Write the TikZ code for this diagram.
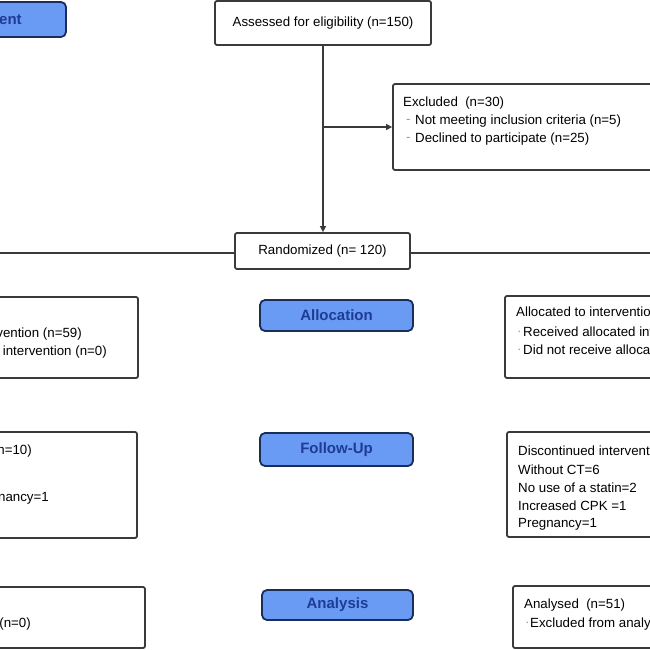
\documentclass[tikz,border=0pt]{standalone}
\usepackage{fontspec}
\setmainfont{Liberation Sans}
\usetikzlibrary{arrows.meta}
\definecolor{bluefill}{HTML}{6A9BF4}
\definecolor{blueline}{HTML}{1B2E5A}
\definecolor{bluetext}{HTML}{1E3C96}
\definecolor{boxline}{HTML}{3A3A3A}
\definecolor{bulletgrey}{HTML}{9A9A9A}
\begin{document}
\begin{tikzpicture}[x=1pt,y=-1pt,
  box/.style={draw=boxline, line width=1.8pt, rounded corners=2pt, fill=white, inner sep=0pt},
  phase/.style={draw=blueline, line width=1.8pt, rounded corners=5pt, fill=bluefill, text=bluetext, inner sep=0pt, font=\bfseries\fontsize{15}{18}\selectfont},
  txt/.style={font=\fontsize{13.3}{16}\selectfont, inner sep=0pt},
  bul/.style={font=\fontsize{13.3}{16}\selectfont, inner sep=0pt, text=bulletgrey},
  conn/.style={draw=boxline, line width=1.5pt},
  arr/.style={conn, -{Triangle[length=6pt,width=6pt]}}]
\useasboundingbox (0,0) rectangle (650,650);
\clip (0,0) rectangle (650,650);

% phase boxes
\node[phase, minimum width=167pt, minimum height=35pt] (enroll) at (-17.5,19.5) {Enrollment};
\node[phase, minimum width=153pt, minimum height=31pt] (alloc) at (336.5,315.5) {Allocation};
\node[phase, minimum width=153pt, minimum height=33pt] (follow) at (336.5,449.5) {Follow-Up};
\node[phase, minimum width=151pt, minimum height=30pt] (analysis) at (337.5,605) {Analysis};

% main boxes
\node[box, minimum width=216pt, minimum height=44pt, txt] (assess) at (323,23) {Assessed for eligibility (n=150)};
\node[box, minimum width=175pt, minimum height=36pt, txt] (rand) at (322.5,251) {Randomized (n= 120)};
\node[box, minimum width=300pt, minimum height=86pt] (excl) at (543,127) {};
\node[txt, anchor=west] (ex1) at (403,103) {Excluded\ \ (n=30)};
\node[bul, anchor=west] (exb2) at (406,121) {-};
\node[txt, anchor=west] (ex2) at (415,121) {Not meeting inclusion criteria (n=5)};
\node[bul, anchor=west] (exb3) at (406,139) {-};
\node[txt, anchor=west] (ex3) at (415,139) {Declined to participate (n=25)};

% allocation
\node[box, minimum width=288pt, minimum height=81pt] (allocL) at (-6,337.5) {};
\node[txt, anchor=east] (aL2) at (82,334) {Received allocated intervention (n=59)};
\node[txt, anchor=east] (aL3) at (107,352) {Did not receive allocated intervention (n=0)};
\node[box, minimum width=295pt, minimum height=82pt] (allocR) at (652.5,337) {};
\node[txt, anchor=west] (aR1) at (516,313) {Allocated to intervention (n=61)};
\node[bul, anchor=west] (aRb2) at (517,333) {·};
\node[txt, anchor=west] (aR2) at (523,333) {Received allocated intervention (n=61)};
\node[bul, anchor=west] (aRb3) at (517,351) {·};
\node[txt, anchor=west] (aR3) at (523,351) {Did not receive allocated intervention (n=0)};

% follow-up
\node[box, minimum width=287pt, minimum height=106pt] (followL) at (-6.5,485) {};
\node[txt, anchor=east] (fL1) at (32,451) {Discontinued intervention (n=10)};
\node[txt, anchor=east] (fL4) at (49,498) {Pregnancy=1};
\node[box, minimum width=293pt, minimum height=105pt] (followR) at (653.5,484.5) {};
\node[txt, anchor=west] (fR1) at (518,452) {Discontinued intervention (n=10)};
\node[txt, anchor=west] (fR2) at (518,470) {Without CT=6};
\node[txt, anchor=west] (fR3) at (518,488) {No use of a statin=2};
\node[txt, anchor=west] (fR4) at (518,506) {Increased CPK =1};
\node[txt, anchor=west] (fR5) at (518,524) {Pregnancy=1};

% analysis
\node[box, minimum width=295pt, minimum height=61pt] (anL) at (-2.5,617.5) {};
\node[txt, anchor=east] (anL2) at (31,624) {Excluded from analysis (n=0)};
\node[box, minimum width=287pt, minimum height=62pt] (anR) at (656.5,617) {};
\node[txt, anchor=west] (anR1) at (524,605) {Analysed\ \ (n=51)};
\node[bul, anchor=west] (anRb2) at (525,624) {·};
\node[txt, anchor=west] (anR2) at (530,624) {Excluded from analysis (n=0)};

% connectors
\draw[arr] (assess.south) -- (assess.south |- rand.north);
\coordinate (br) at (assess.south |- excl.west);
\draw[arr] (br) -- (excl.west);
\coordinate (lft) at (-20,253);
\coordinate (rgt) at (670,253);
\draw[conn] (rand.west |- lft) -- (lft);
\draw[conn] (rand.east |- rgt) -- (rgt);
\end{tikzpicture}
\end{document}
